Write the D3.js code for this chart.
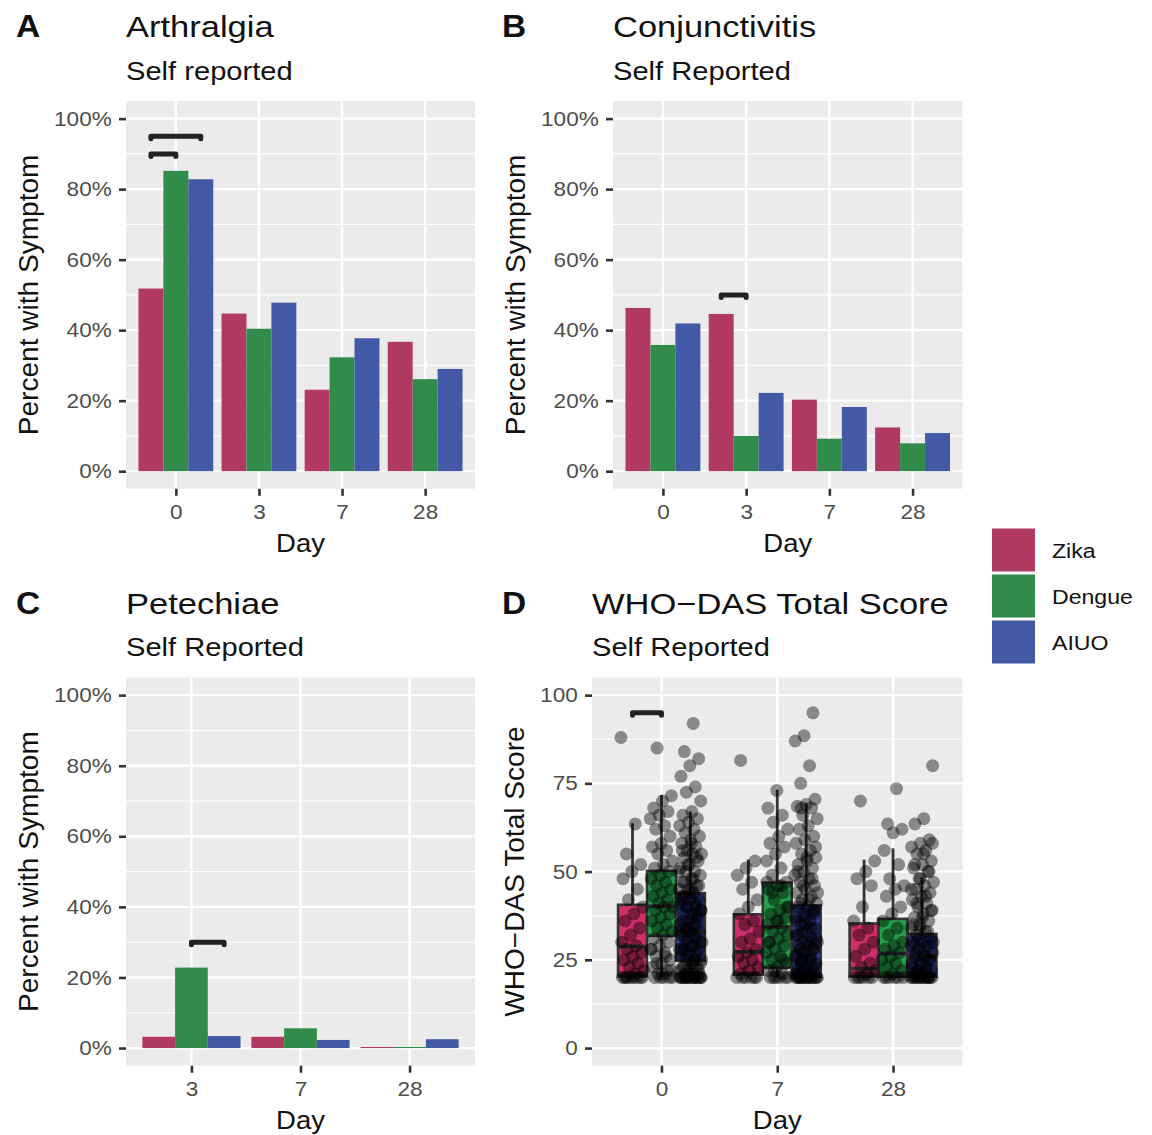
<!DOCTYPE html>
<html>
<head>
<meta charset="utf-8">
<script src="https://cdn.jsdelivr.net/npm/d3@7"></script>
<style>
  body { margin: 0; background: #fff; }
  text { font-family: "Liberation Sans", Arial, Helvetica, sans-serif; }
</style>
</head>
<body>
<script>
// groups and colours
const groups = ["Zika", "Dengue", "AIUO"];
const barColors = ["#b03a62", "#318c4b", "#4459a5"];
const boxColors = ["#cf2f69", "#23a04b", "#2f3f9a"];

// days on the x axes
const daysAB = ["0", "3", "7", "28"];
const daysC = ["3", "7", "28"];
const daysD = ["0", "7", "28"];

// A - Arthralgia (% with symptom)
const arthralgiaZika = [51.8, 44.7, 23.1, 36.7];
const arthralgiaDengue = [85.2, 40.4, 32.3, 26.1];
const arthralgiaAIUO = [82.8, 47.8, 37.7, 29.0];

// B - Conjunctivitis
const conjZika = [46.3, 44.6, 20.3, 12.4];
const conjDengue = [35.8, 10.0, 9.2, 7.9];
const conjAIUO = [41.9, 22.2, 18.2, 10.8];

// C - Petechiae
const petZika = [3.2, 3.2, 0.3];
const petDengue = [22.8, 5.6, 0.3];
const petAIUO = [3.4, 2.3, 2.5];

// significance bars: day, from group, to group, height
const sigA = [["0", "Zika", "AIUO", 95], ["0", "Zika", "Dengue", 90]];
const sigB = [["3", "Zika", "Dengue", 50]];
const sigC = [["3", "Dengue", "AIUO", 30]];
const sigD = [["0", "Zika", "Dengue", 95]];

// D - WHO-DAS box stats per day: [min, q1, median, q3, max]
const boxZika = [[20, 20.3, 28.8, 40.6, 63.7], [20, 20.8, 27.3, 37.9, 53.4], [20, 20.3, 22.5, 35.3, 53.4]];
const boxDengue = [[20, 31.8, 40.2, 50.2, 71.7], [20, 22.8, 34.3, 46.9, 73.2], [20, 20.2, 26.8, 36.6, 56.6]];
const boxAIUO = [[20, 24.8, 33, 43.9, 67], [20, 20.2, 28, 40.4, 69.5], [20, 20.2, 26, 32.3, 48.4]];

// D - individual scores
const whoZika0 = [88, 63.5, 55, 52, 50, 48, 45, 42, 40, 38, 36, 34, 32, 30, 29, 28, 27, 26, 25, 24, 23, 22, 21, 20, 20, 20, 20, 20, 20, 20, 20, 20];
const whoDengue0 = [85, 71.5, 70, 68, 67, 66, 65, 63, 62, 60, 58, 57, 56, 55, 53, 52, 51, 50, 49, 48, 47, 46, 45, 44, 43, 42, 41, 40, 40, 39, 38, 37, 36, 35, 34, 33, 32, 31, 30, 29, 28, 27, 26, 25, 24, 23, 22, 21, 20, 20, 20, 20, 20, 28, 26, 24, 22, 21];
const whoAIUO0 = [92, 84, 82, 80, 77, 74, 72.5, 70, 67, 66, 65, 64, 63, 62, 61, 60, 59, 58, 57, 56, 55, 55, 54, 53, 52, 51, 50, 50, 49, 48, 47, 46, 45, 45, 44, 43, 42, 42, 41, 40, 40, 39, 38, 38, 37, 36, 35, 35, 34, 33, 33, 32, 31, 30, 30, 29, 28, 28, 27, 26, 25, 25, 24, 24, 23, 23, 22, 22, 21, 21, 21, 20, 20, 20, 20, 20, 20, 20, 20, 20, 20, 20, 20, 20,
    58, 56, 54, 52, 50, 48, 47, 46, 44, 43, 41, 40, 39, 37, 36, 35, 34, 33, 32, 31, 30, 29, 28, 27, 26, 25, 24, 23, 22, 21, 20, 20, 20, 20, 45, 42, 38, 33, 28, 25];
const whoZika7 = [81.5, 53, 51, 49, 47, 45, 42, 40, 38, 36, 35, 33, 31, 30, 28, 27, 26, 25, 24, 23, 22, 21, 20, 20, 20, 20, 20, 20];
const whoDengue7 = [73, 68, 66, 64, 62, 60, 58, 57, 55, 53, 51, 49, 47, 46, 45, 44, 42, 40, 39, 38, 37, 36, 35, 34, 33, 32, 31, 30, 29, 28, 27, 26, 25, 24, 23, 22, 21, 20, 20, 20, 20, 20, 20, 47, 46, 44, 40, 36, 30, 25, 22];
const whoAIUO7 = [95, 88.5, 87, 80, 75, 70.5, 69, 68.5, 68, 66, 65, 63, 62, 60, 59, 58, 56, 55, 54, 53, 52, 51, 50, 49, 48, 47, 46, 45, 44, 43, 42, 41, 40, 40, 39, 38, 37, 36, 35, 34, 33, 32, 31, 30, 30, 29, 28, 28, 27, 26, 25, 25, 24, 23, 23, 22, 22, 21, 21, 20, 20, 20, 20, 20, 20, 20, 20, 20, 20, 20, 20, 20,
    68, 57, 54, 50, 48, 46, 44, 42, 41, 39, 37, 36, 34, 33, 31, 30, 29, 28, 27, 26, 25, 24, 23, 22, 21, 21, 20, 20, 20, 20, 38, 35, 32, 26, 24];
const whoZika28 = [70, 53, 50, 48, 46, 40, 36, 34, 32, 30, 28, 26, 24, 23, 22, 21, 20, 20, 20, 20, 20, 20];
const whoDengue28 = [73.5, 63.5, 62, 61, 56, 52, 48, 46, 45, 43, 40, 38, 36, 34, 32, 30, 29, 28, 27, 26, 25, 24, 23, 22, 21, 20, 20, 20, 20, 20, 20];
const whoAIUO28 = [80, 65, 63.5, 59, 58, 57, 56, 55, 53, 52, 51, 50, 48, 47, 46, 45, 44, 43, 42, 41, 40, 39, 38, 37, 36, 35, 34, 33, 32, 31, 30, 30, 29, 28, 27, 26, 26, 25, 24, 24, 23, 22, 22, 21, 21, 20, 20, 20, 20, 20, 20, 20, 20, 20, 20,
    58, 55, 52, 50, 48, 45, 43, 41, 39, 37, 35, 33, 31, 30, 28, 27, 25, 24, 23, 22, 21, 20, 20, 20, 20, 34, 29, 26];

const pctTicks = [0, 20, 40, 60, 80, 100];
const pctMinor = [10, 30, 50, 70, 90];
const scoreTicks = [0, 25, 50, 75, 100];
const scoreMinor = [12.5, 37.5, 62.5, 87.5];

const svg = d3.select("body").append("svg")
    .attr("width", 1152)
    .attr("height", 1135);

// text helper, widened a bit to match the original font
function label(g, x, y, str, size, opts) {
    opts = opts || {};
    const sx = opts.sx || 1.13;
    return g.append("text")
        .attr("transform", "translate(" + x + "," + y + ") rotate(" + (opts.rot || 0) + ") scale(" + sx + ",1)")
        .attr("text-anchor", opts.anchor || "start")
        .attr("font-size", size + "px")
        .attr("font-weight", opts.bold ? "bold" : "normal")
        .attr("fill", opts.fill || "#111")
        .text(str);
}

function frame(p, days, yTicks, yMinor, fmt) {
    const g = svg.append("g");
    const x = d3.scalePoint().domain(days).range([p.x0, p.x1]).padding(0.6);
    const y = d3.scaleLinear().domain([-5, 105]).range([p.yBot, p.yTop]);

    g.append("rect")
        .attr("x", p.x0).attr("y", p.yTop)
        .attr("width", p.x1 - p.x0).attr("height", p.yBot - p.yTop)
        .attr("fill", "#ebebeb");
    g.selectAll(".minor").data(yMinor).enter().append("line")
        .attr("x1", p.x0).attr("x2", p.x1)
        .attr("y1", d => y(d)).attr("y2", d => y(d))
        .attr("stroke", "#fff").attr("stroke-width", 1.1);
    g.selectAll(".major").data(yTicks).enter().append("line")
        .attr("x1", p.x0).attr("x2", p.x1)
        .attr("y1", d => y(d)).attr("y2", d => y(d))
        .attr("stroke", "#fff").attr("stroke-width", 2.3);
    g.selectAll(".vmajor").data(days).enter().append("line")
        .attr("x1", d => x(d)).attr("x2", d => x(d))
        .attr("y1", p.yTop).attr("y2", p.yBot)
        .attr("stroke", "#fff").attr("stroke-width", 2.3);

    // y axis
    const ya = g.append("g")
        .attr("transform", "translate(" + p.x0 + ",0)")
        .call(d3.axisLeft(y).tickValues(yTicks).tickFormat(fmt).tickSize(7).tickPadding(6));
    ya.select(".domain").remove();
    ya.selectAll("line").attr("stroke", "#333").attr("stroke-width", 2.6);
    ya.selectAll("text")
        .attr("font-size", "20.5px").attr("fill", "#4d4d4d")
        .attr("font-family", "Liberation Sans, Arial, sans-serif")
        .attr("transform", "scale(1.1,1)");

    // x axis
    const xa = g.append("g")
        .attr("transform", "translate(0," + p.yBot + ")")
        .call(d3.axisBottom(x).tickSize(7));
    xa.select(".domain").remove();
    xa.selectAll("line").attr("stroke", "#333").attr("stroke-width", 2.6);
    xa.selectAll("text")
        .attr("y", 30.5).attr("dy", null)
        .attr("font-size", "20.5px").attr("fill", "#4d4d4d")
        .attr("font-family", "Liberation Sans, Arial, sans-serif")
        .attr("transform", "scale(1.1,1)");

    // titles
    label(g, p.letterX, p.titleY, p.letter, 31, { bold: true, sx: 1.08 });
    label(g, p.x0, p.titleY, p.title, 30, { sx: 1.15 });
    label(g, p.x0, p.titleY + 42.5, p.subtitle, 26, { sx: 1.12 });
    label(g, (p.x0 + p.x1) / 2, p.yBot + 63, "Day", 25, { anchor: "middle", sx: 1.1 });
    label(g, p.yTitleX, (p.yTop + p.yBot) / 2, p.yTitle, 27, { anchor: "middle", rot: -90, sx: 1.04 });

    return { g: g, x: x, y: y, step: x.step() };
}

function sigBars(f, sub, list) {
    list.forEach(function (s) {
        const xa = f.x(s[0]) + sub(s[1]) + sub.bandwidth() / 2;
        const xb = f.x(s[0]) + sub(s[2]) + sub.bandwidth() / 2;
        const yy = f.y(s[3]);
        f.g.append("path")
            .attr("d", "M" + xa + "," + (yy + 2.5) + "L" + xa + "," + yy + "L" + xb + "," + yy + "L" + xb + "," + (yy + 2.5))
            .attr("fill", "none")
            .attr("stroke", "#222")
            .attr("stroke-width", 5)
            .attr("stroke-linecap", "round")
            .attr("stroke-linejoin", "round");
    });
}

function barPanel(p, days, series, sig) {
    const f = frame(p, days, pctTicks, pctMinor, d => d + "%");
    const sub = d3.scaleBand().domain(groups).range([-0.45 * f.step, 0.45 * f.step]);
    const rows = [];
    days.forEach(function (d, i) {
        groups.forEach(function (grp, j) {
            rows.push({ day: d, grp: grp, v: series[j][i], c: barColors[j] });
        });
    });
    f.g.selectAll(".bar").data(rows).enter().append("rect")
        .attr("x", d => f.x(d.day) + sub(d.grp))
        .attr("width", sub.bandwidth())
        .attr("y", d => f.y(d.v))
        .attr("height", d => f.y(0) - f.y(d.v))
        .attr("fill", d => d.c);
    sigBars(f, sub, sig);
}

const common = { yTop: 101, yBot: 488.8, titleY: 37 };
const lower = { yTop: 677.5, yBot: 1065.7, titleY: 613.5 };

barPanel(Object.assign({ x0: 126, x1: 475, letter: "A", letterX: 16, title: "Arthralgia", subtitle: "Self reported",
        yTitle: "Percent with Symptom", yTitleX: 38 }, common),
    daysAB, [arthralgiaZika, arthralgiaDengue, arthralgiaAIUO], sigA);

barPanel(Object.assign({ x0: 613, x1: 962.5, letter: "B", letterX: 502, title: "Conjunctivitis", subtitle: "Self Reported",
        yTitle: "Percent with Symptom", yTitleX: 525 }, common),
    daysAB, [conjZika, conjDengue, conjAIUO], sigB);

barPanel(Object.assign({ x0: 126, x1: 475, letter: "C", letterX: 16, title: "Petechiae", subtitle: "Self Reported",
        yTitle: "Percent with Symptom", yTitleX: 38 }, lower),
    daysC, [petZika, petDengue, petAIUO], sigC);

// D - boxplots with jittered points
const fD = frame(Object.assign({ x0: 592, x1: 962.5, letter: "D", letterX: 502, title: "WHO\u2212DAS Total Score",
        subtitle: "Self Reported", yTitle: "WHO\u2212DAS Total Score", yTitleX: 524 }, lower),
    daysD, scoreTicks, scoreMinor, d => d);
const subD = d3.scaleBand().domain(groups).range([-0.375 * fD.step, 0.375 * fD.step]);
const boxStats = [boxZika, boxDengue, boxAIUO];
const pts = [[whoZika0, whoZika7, whoZika28], [whoDengue0, whoDengue7, whoDengue28], [whoAIUO0, whoAIUO7, whoAIUO28]];

const boxRows = [];
daysD.forEach(function (d, i) {
    groups.forEach(function (grp, j) {
        boxRows.push({ day: d, grp: grp, s: boxStats[j][i], c: boxColors[j] });
    });
});
const bw = subD.bandwidth();
const bx = d => fD.x(d.day) + subD(d.grp);
const bg = fD.g.selectAll(".box").data(boxRows).enter().append("g");
bg.append("line")
    .attr("x1", d => bx(d) + bw / 2).attr("x2", d => bx(d) + bw / 2)
    .attr("y1", d => fD.y(d.s[4])).attr("y2", d => fD.y(d.s[3]))
    .attr("stroke", "#333").attr("stroke-width", 2.8);
bg.append("line")
    .attr("x1", d => bx(d) + bw / 2).attr("x2", d => bx(d) + bw / 2)
    .attr("y1", d => fD.y(d.s[1])).attr("y2", d => fD.y(d.s[0]))
    .attr("stroke", "#333").attr("stroke-width", 2.8);
bg.append("rect")
    .attr("x", bx).attr("width", bw)
    .attr("y", d => fD.y(d.s[3]))
    .attr("height", d => fD.y(d.s[1]) - fD.y(d.s[3]))
    .attr("fill", d => d.c)
    .attr("stroke", "#333").attr("stroke-width", 2.6);
bg.append("line")
    .attr("x1", bx).attr("x2", d => bx(d) + bw)
    .attr("y1", d => fD.y(d.s[2])).attr("y2", d => fD.y(d.s[2]))
    .attr("stroke", "#333").attr("stroke-width", 3.6);

// jittered points (deterministic spread across the box width)
const ptRows = [];
daysD.forEach(function (d, i) {
    groups.forEach(function (grp, j) {
        pts[j][i].forEach(function (v, k) {
            const jit = ((k * 0.618034 + j * 0.31 + i * 0.17) % 1) - 0.5;
            ptRows.push({ day: d, grp: grp, v: v, jit: jit });
        });
    });
});
fD.g.selectAll(".pt").data(ptRows).enter().append("circle")
    .attr("cx", d => fD.x(d.day) + subD(d.grp) + bw / 2 + d.jit * bw * 0.8)
    .attr("cy", d => fD.y(d.v))
    .attr("r", 6.5)
    .attr("fill", "#000")
    .attr("fill-opacity", 0.42);
sigBars(fD, subD, sigD);

// legend
const lg = svg.append("g").attr("transform", "translate(992,528.5)");
groups.forEach(function (grp, j) {
    lg.append("rect")
        .attr("x", 0).attr("y", j * 46)
        .attr("width", 43).attr("height", 43)
        .attr("fill", barColors[j]);
    label(lg, 60, j * 46 + 29, grp, 21, { sx: 1.1 });
});
</script>
</body>
</html>
